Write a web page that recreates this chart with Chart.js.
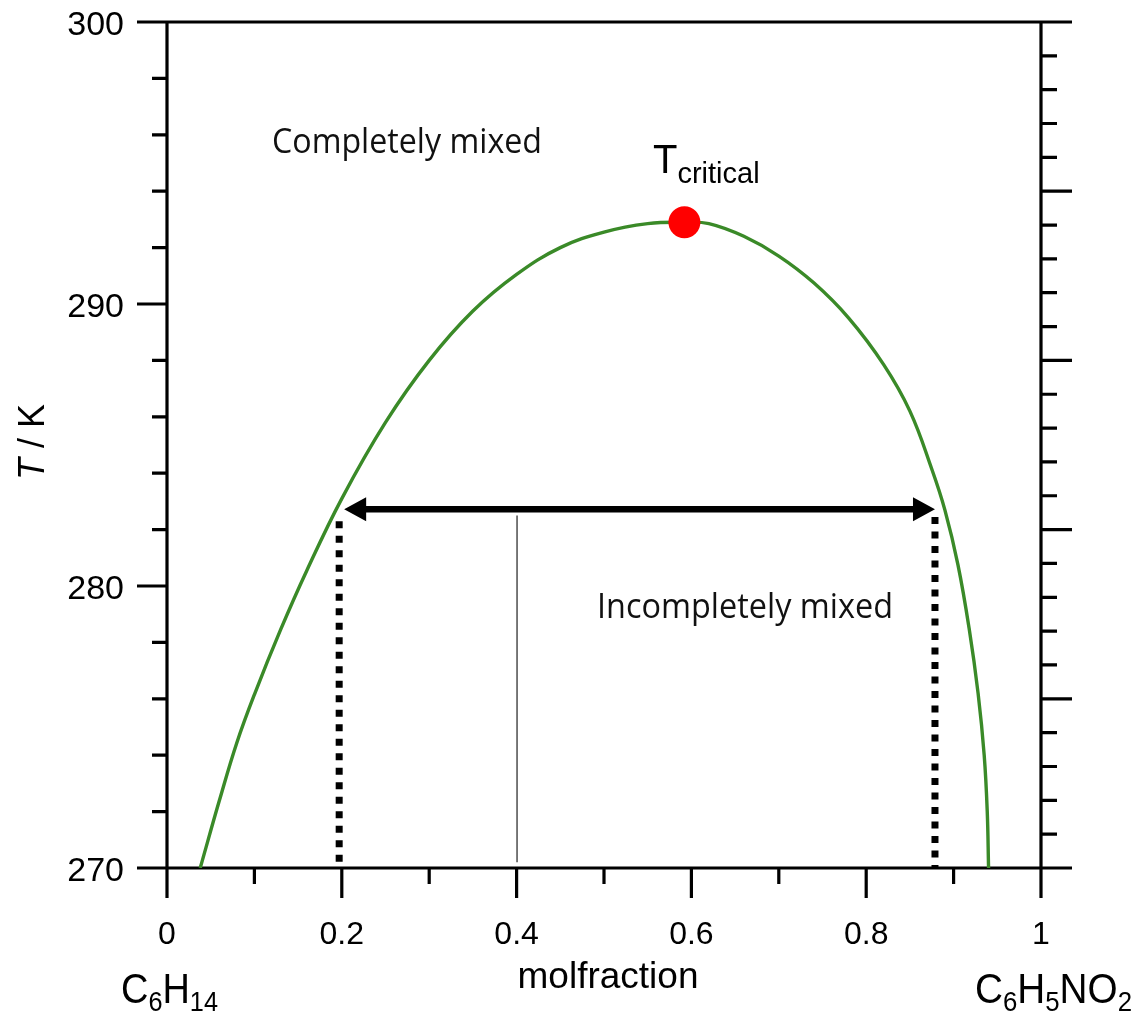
<!DOCTYPE html>
<html>
<head>
<meta charset="utf-8">
<script src="https://cdn.jsdelivr.net/npm/chart.js"></script>
<style>
  html, body { margin: 0; padding: 0; background: #fff; }
  canvas { display: block; }
</style>
</head>
<body>
<canvas id="phaseChart" width="1136" height="1016"></canvas>
<script>
// binodal curve of hexane / nitrobenzene
const molFraction = [0.038, 0.06, 0.08, 0.10, 0.13, 0.16, 0.20, 0.25, 0.30, 0.35, 0.40, 0.45, 0.50, 0.55,
                     0.592, 0.62, 0.66, 0.70, 0.74, 0.78, 0.82, 0.85, 0.875, 0.89, 0.905, 0.918,
                     0.928, 0.935, 0.9385, 0.940];
const temperature = [270.0, 272.4, 274.45, 276.15, 278.45, 280.55, 283.1, 285.8, 288.0, 289.75, 291.05, 292.0, 292.55, 292.85,
                     292.9, 292.85, 292.4, 291.7, 290.75, 289.5, 287.85, 286.2, 284.15, 282.7, 280.75, 278.45,
                     276.2, 274.0, 272.0, 270.0];

const criticalPoint = [0.592, 292.9];

// tie line (double arrow) and its dotted drop lines
const tieLineX = [0.2027, 0.8787];
const tieLineT = 282.72;
const dropLeft = [0.197, 282.3];
const dropRight = [0.8787, 282.45];
const overallComposition = [0.4005, 282.5];

const xTickValues = [0, 0.2, 0.4, 0.6, 0.8, 1];
const xTickLabels = ['0', '0.2', '0.4', '0.6', '0.8', '1'];
const xMinorValues = [0.1, 0.3, 0.5, 0.7, 0.9];
const yTickValues = [300, 290, 280, 270];
const yTickLabels = ['300', '290', '280', '270'];
const yMinorValues = [298, 296, 294, 292, 288, 286, 284, 282, 278, 276, 274, 272];
const rightDivisions = 25;
const rightMajorEvery = 5;

const GREEN = 'rgb(58,138,40)';

function partsWidth(ctx, parts) {
  let w = 0;
  parts.forEach(p => { ctx.font = p[1]; w += ctx.measureText(p[0]).width; });
  return w;
}

// parts: [text, font, dy]; optional target width squeezes the run horizontally
function drawParts(ctx, parts, x, y, width) {
  const w = partsWidth(ctx, parts);
  const k = width ? width / w : 1;
  ctx.save();
  ctx.translate(x, y);
  ctx.scale(k, 1);
  let cx = 0;
  parts.forEach(p => {
    ctx.font = p[1];
    ctx.fillText(p[0], cx, p[2] || 0);
    cx += ctx.measureText(p[0]).width;
  });
  ctx.restore();
}

const frame = {
  id: 'frame',
  beforeDatasetsDraw(chart) {
    const ctx = chart.ctx;
    const xs = chart.scales.x, ys = chart.scales.y, rs = chart.scales.y2;
    const L = xs.getPixelForValue(0), R = xs.getPixelForValue(1);
    const T = ys.getPixelForValue(300), B = ys.getPixelForValue(270);
    ctx.save();
    ctx.strokeStyle = '#000';
    ctx.lineWidth = 3.2;
    ctx.lineCap = 'butt';
    ctx.beginPath();
    ctx.moveTo(L, T); ctx.lineTo(L, B + 30);
    ctx.moveTo(R, T); ctx.lineTo(R, B + 30);
    ctx.moveTo(L - 30, T); ctx.lineTo(R + 31, T);
    ctx.moveTo(L - 30, B); ctx.lineTo(R + 31, B);
    yTickValues.forEach(v => { const p = ys.getPixelForValue(v); ctx.moveTo(L - 30, p); ctx.lineTo(L, p); });
    yMinorValues.forEach(v => { const p = ys.getPixelForValue(v); ctx.moveTo(L - 15, p); ctx.lineTo(L, p); });
    for (let i = 0; i <= rightDivisions; i++) {
      const p = rs.getPixelForValue(i);
      ctx.moveTo(R, p); ctx.lineTo(R + (i % rightMajorEvery === 0 ? 31 : 16), p);
    }
    xTickValues.forEach(v => { const p = xs.getPixelForValue(v); ctx.moveTo(p, B); ctx.lineTo(p, B + 30); });
    xMinorValues.forEach(v => { const p = xs.getPixelForValue(v); ctx.moveTo(p, B); ctx.lineTo(p, B + 16); });
    ctx.stroke();

    ctx.fillStyle = '#000';
    ctx.font = '34px "Liberation Sans", Arial, sans-serif';
    ctx.textAlign = 'right';
    ctx.textBaseline = 'alphabetic';
    yTickValues.forEach((v, i) => ctx.fillText(yTickLabels[i], L - 43, ys.getPixelForValue(v) + 13));
    ctx.font = '32px "Liberation Sans", Arial, sans-serif';
    ctx.textAlign = 'center';
    xTickValues.forEach((v, i) => ctx.fillText(xTickLabels[i], xs.getPixelForValue(v), B + 76));
    ctx.restore();
  },
  afterDatasetsDraw(chart) {
    const ctx = chart.ctx;
    const xs = chart.scales.x, ys = chart.scales.y;
    ctx.save();
    // double arrow
    const yA = ys.getPixelForValue(tieLineT);
    const x1 = xs.getPixelForValue(tieLineX[0]), x2 = xs.getPixelForValue(tieLineX[1]);
    const hl = 22, hh = 12;
    ctx.strokeStyle = '#000';
    ctx.fillStyle = '#000';
    ctx.lineWidth = 6.5;
    ctx.beginPath();
    ctx.moveTo(x1 + hl - 2, yA); ctx.lineTo(x2 - hl + 2, yA);
    ctx.stroke();
    ctx.beginPath();
    ctx.moveTo(x1, yA); ctx.lineTo(x1 + hl, yA - hh); ctx.lineTo(x1 + hl, yA + hh); ctx.closePath();
    ctx.moveTo(x2, yA); ctx.lineTo(x2 - hl, yA - hh); ctx.lineTo(x2 - hl, yA + hh); ctx.closePath();
    ctx.fill();

    // region labels
    ctx.textAlign = 'left';
    ctx.textBaseline = 'alphabetic';
    ctx.font = '34px "Open Sans", sans-serif';
    ctx.fillStyle = '#111';
    ctx.fillText('Completely mixed', 272, 153, 270);
    ctx.fillText('Incompletely mixed', 597, 618, 296);

    ctx.fillStyle = '#000';
    const sans = '"Liberation Sans", Arial, sans-serif';
    drawParts(ctx, [['T', '40px ' + sans], ['critical', '29px ' + sans, 10]], 653, 173);

    // axis titles
    ctx.font = '37px ' + sans;
    ctx.textAlign = 'center';
    ctx.fillText('molfraction', 608, 988);
    ctx.textAlign = 'left';
    const left = [['C', '42px ' + sans], ['6', '28px ' + sans, 8], ['H', '42px ' + sans], ['14', '28px ' + sans, 8]];
    drawParts(ctx, left, 121, 1003, 97);
    const right = [['C', '42px ' + sans], ['6', '28px ' + sans, 8], ['H', '42px ' + sans], ['5', '28px ' + sans, 8],
                   ['N', '42px ' + sans], ['O', '42px ' + sans], ['2', '28px ' + sans, 8]];
    drawParts(ctx, right, 975, 1003, 157);

    ctx.translate(31, 442);
    ctx.rotate(-Math.PI / 2);
    const title = [['T', 'italic 36px ' + sans], [' / K', '36px ' + sans]];
    drawParts(ctx, title, -partsWidth(ctx, title) / 2, 13);
    ctx.restore();
  }
};

const toPoints = (xs, ys) => xs.map((x, i) => ({ x: x, y: ys[i] }));

new Chart(document.getElementById('phaseChart').getContext('2d'), {
  type: 'scatter',
  data: {
    datasets: [
      {
        label: 'binodal',
        data: toPoints(molFraction, temperature),
        showLine: true,
        borderColor: GREEN,
        borderWidth: 3.4,
        pointRadius: 0,
        tension: 0.4,
        order: 3
      },
      {
        label: 'drop left',
        data: [{ x: dropLeft[0], y: dropLeft[1] }, { x: dropLeft[0], y: 270 }],
        showLine: true,
        borderColor: '#000',
        borderWidth: 7,
        borderDash: [7, 7.5],
        pointRadius: 0,
        order: 2
      },
      {
        label: 'drop right',
        data: [{ x: dropRight[0], y: dropRight[1] }, { x: dropRight[0], y: 270 }],
        showLine: true,
        borderColor: '#000',
        borderWidth: 7,
        borderDash: [7, 7.5],
        pointRadius: 0,
        order: 2
      },
      {
        label: 'overall composition',
        data: [{ x: overallComposition[0], y: overallComposition[1] }, { x: overallComposition[0], y: 270.2 }],
        showLine: true,
        borderColor: '#222',
        borderWidth: 1.2,
        pointRadius: 0,
        order: 2
      },
      {
        label: 'critical point',
        data: [{ x: criticalPoint[0], y: criticalPoint[1] }],
        pointRadius: 16,
        pointBackgroundColor: '#ff0000',
        pointBorderWidth: 0,
        order: 1
      }
    ]
  },
  options: {
    responsive: false,
    animation: false,
    layout: { padding: { left: 167, right: 95, top: 22, bottom: 148 } },
    plugins: { legend: { display: false }, tooltip: { enabled: false } },
    scales: {
      x: { type: 'linear', min: 0, max: 1, display: false },
      y: { type: 'linear', min: 270, max: 300, display: false },
      y2: { type: 'linear', min: 0, max: rightDivisions, display: false, position: 'right' }
    }
  },
  plugins: [frame]
});
</script>
</body>
</html>
